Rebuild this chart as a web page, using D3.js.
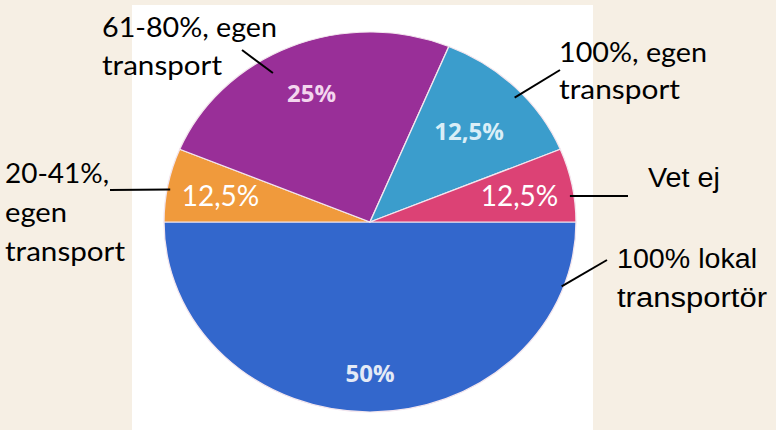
<!DOCTYPE html>
<html>
<head>
<meta charset="utf-8">
<script src="https://cdn.jsdelivr.net/npm/d3@7"></script>
<style>
    body { margin: 0; background: #f6efe4; }
    svg { display: block; }
</style>
</head>
<body>
<div id="canvas"></div>
<script>
"use strict"

/* Data */
let categories = ["100% lokal transportör", "20-41%, egen transport", "61-80%, egen transport", "100%, egen transport", "Vet ej"];
let sliceValues = [8, 1, 4, 2, 1];
let sliceLabels = ["50%", "12,5%", "25%", "12,5%", "12,5%"];
let sliceColors = ["#3367cc", "#f09a3c", "#992f98", "#3b9dcc", "#dc4275"];

/* Drawing config */
let svgWidth = 776;
let svgHeight = 430;
let cx = 370;
let cy = 222;
let radius = 190;
let stretch = 206 / 190;

let svg = d3.select("#canvas")
    .append("svg")
    .attr("width", svgWidth)
    .attr("height", svgHeight);

/* parchment background and white panel behind the pie */
svg.append("rect")
    .attr("width", svgWidth)
    .attr("height", svgHeight)
    .attr("fill", "#f6efe4");

svg.append("rect")
    .attr("x", 132)
    .attr("y", 5)
    .attr("width", 461)
    .attr("height", svgHeight - 5)
    .attr("fill", "#ffffff");

let pie = d3.pie()
    .sort(null)
    .startAngle(Math.PI / 2)
    .endAngle(Math.PI / 2 + 2 * Math.PI);

let arcs = pie(sliceValues);

let arc = d3.arc()
    .innerRadius(0)
    .outerRadius(radius);

/* pie is slightly wider than tall */
let pieG = svg.append("g")
    .attr("transform", "translate(" + cx + "," + cy + ") scale(" + stretch + ",1)");

pieG.selectAll("path")
    .data(arcs)
    .join("path")
    .attr("d", arc)
    .attr("fill", function (d, i) { return sliceColors[i]; })
    .attr("stroke", "#f3e6ee")
    .attr("stroke-width", 1.2);

/* point on the (stretched) pie for angle in degrees clockwise from top */
function pt(deg, frac) {
    let a = deg * Math.PI / 180;
    return [cx + Math.sin(a) * radius * frac * stretch, cy - Math.cos(a) * radius * frac];
}

/* slice percentage labels */
let labelFrac = [0.79, 0.74, 0.74, 0.68, 0.74];
let labelStyle = [
    { size: 24, weight: "bold", fill: "#e4eaf6", font: "'Open Sans'" },
    { size: 28, weight: "normal", fill: "#ffffff", font: "Lato" },
    { size: 24, weight: "bold", fill: "#f3d6ee", font: "'Open Sans'" },
    { size: 24, weight: "bold", fill: "#d9eef7", font: "'Open Sans'" },
    { size: 28, weight: "normal", fill: "#ffffff", font: "Lato" }
];

svg.selectAll("text.pct")
    .data(arcs)
    .join("text")
    .attr("class", "pct")
    .attr("x", function (d, i) {
        let mid = (d.startAngle + d.endAngle) / 2 * 180 / Math.PI;
        return pt(mid, labelFrac[i])[0];
    })
    .attr("y", function (d, i) {
        let mid = (d.startAngle + d.endAngle) / 2 * 180 / Math.PI;
        return pt(mid, labelFrac[i])[1];
    })
    .attr("text-anchor", "middle")
    .attr("dominant-baseline", "central")
    .attr("font-family", function (d, i) { return labelStyle[i].font + ", sans-serif"; })
    .attr("font-size", function (d, i) { return labelStyle[i].size; })
    .attr("font-weight", function (d, i) { return labelStyle[i].weight; })
    .attr("fill", function (d, i) { return labelStyle[i].fill; })
    .text(function (d, i) { return sliceLabels[i]; });

/* callout annotations (w = measured line widths) */
let callouts = [
    { lines: ["100% lokal", "transportör"], w: [140, 150], x: 617, y: 268, font: "'Liberation Sans'", size: 27, lh: 39, at: [110, 0.99], to: [607, 260] },
    { lines: ["20-41%,", "egen", "transport"], w: [104, 62, 120], x: 5, y: 183, font: "Lato", size: 27, lh: 39, at: [280, 0.985], to: [110, 190] },
    { lines: ["61-80%, egen", "transport"], w: [175, 120], x: 102, y: 37, font: "Lato", size: 27, lh: 38, at: [329, 0.915], to: [242, 50] },
    { lines: ["100%, egen", "transport"], w: [148, 121], x: 559, y: 62, font: "Lato", size: 27, lh: 37, at: [47, 0.96], to: [560, 70] },
    { lines: ["Vet ej"], w: [72], x: 648, y: 187, font: "'Liberation Sans'", size: 27, lh: 38, at: [82, 0.98], to: [628, 196] }
];

callouts.forEach(function (c) {
    let p = pt(c.at[0], c.at[1]);
    svg.append("line")
        .attr("x1", p[0])
        .attr("y1", p[1])
        .attr("x2", c.to[0])
        .attr("y2", c.to[1])
        .attr("stroke", "#000")
        .attr("stroke-width", 2);

    c.lines.forEach(function (line, k) {
        svg.append("text")
            .attr("x", c.x)
            .attr("y", c.y + k * c.lh)
            .attr("font-family", c.font + ", sans-serif")
            .attr("font-size", c.size)
            .attr("fill", "#000")
            .attr("textLength", c.w[k])
            .attr("lengthAdjust", "spacingAndGlyphs")
            .text(line);
    });
});
</script>
</body>
</html>
